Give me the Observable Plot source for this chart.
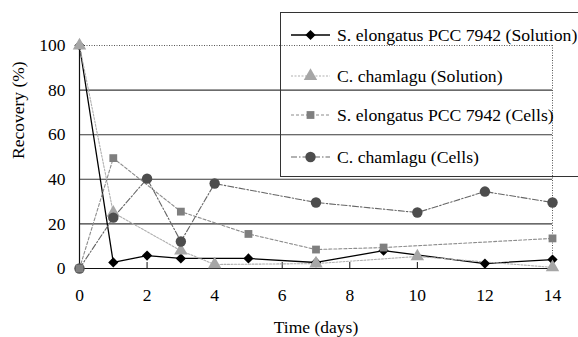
<!DOCTYPE html>
<html>
<head>
<meta charset="utf-8">
<script src="https://cdn.jsdelivr.net/npm/d3@7"></script>
<script src="https://cdn.jsdelivr.net/npm/@observablehq/plot@0.6"></script>
<style>
  html, body { margin: 0; padding: 0; background: #fff; overflow: hidden; }
  #wrap { position: relative; width: 578px; height: 337px; overflow: hidden; font-family: "Liberation Serif", "Times New Roman", serif; }
  #legend { position: absolute; left: 280px; top: 12px; width: 320px; height: 165px; border: 1px solid #333; box-sizing: border-box; }
  #legend .row { position: absolute; left: 0; height: 24px; display: flex; align-items: center; font-size: 17.7px; color: #000; white-space: nowrap; }
  #legend svg { display: block; margin-left: 10px; margin-right: 6px; }
</style>
</head>
<body>
<div id="wrap"></div>
<script>
// ---- data ----
const seriesNames = [
  "S. elongatus PCC 7942 (Solution)",
  "C. chamlagu (Solution)",
  "S. elongatus PCC 7942 (Cells)",
  "C. chamlagu (Cells)"
];
const seSolutionDays = [0, 1, 2, 3, 5, 7, 9, 12, 14];
const seSolution     = [100, 2.7, 5.8, 4.5, 4.5, 2.7, 8, 2.2, 4];
const ccSolutionDays = [0, 1, 3, 4, 7, 10, 14];
const ccSolution     = [100, 25, 8, 1.8, 2.2, 5.4, 0.5];
const seCellsDays    = [0, 1, 3, 5, 7, 9, 14];
const seCells        = [0, 49.5, 25.5, 15.5, 8.5, 9.4, 13.5];
const ccCellsDays    = [0, 1, 2, 3, 4, 7, 10, 12, 14];
const ccCells        = [0, 22.8, 40.3, 12.1, 38.1, 29.6, 25.1, 34.5, 29.6];
const xTicks = [0, 2, 4, 6, 8, 10, 12, 14];
const yTicks = [0, 20, 40, 60, 80, 100];

// ---- styles ----
const styles = [
  {symbol: "diamond2", fill: "#000", line: "#000", dash: null, r: 4.6, lw: 1.3},
  {symbol: "triangle", fill: "#a6a6a6", line: "#b0b0b0", dash: "2,1.5", r: 5, lw: 1.1},
  {symbol: "square", fill: "#7f7f7f", line: "#8c8c8c", dash: "3,2", r: 4.4, lw: 1.1},
  {symbol: "circle", fill: "#4d4d4d", line: "#666", dash: "6,2,1.5,2", r: 5.2, lw: 1.1}
];

const mk = (days, vals, i) => days.map((d, k) => ({day: d, value: vals[k], s: i}));
const series = [
  mk(seSolutionDays, seSolution, 0),
  mk(ccSolutionDays, ccSolution, 1),
  mk(seCellsDays, seCells, 2),
  mk(ccCellsDays, ccCells, 3)
];

const lineMarks = series.map((data, i) => Plot.line(data, {
  x: "day", y: "value", stroke: styles[i].line, strokeWidth: styles[i].lw,
  strokeDasharray: styles[i].dash
}));
const dotOrder = [0, 1, 3, 2];
const dotMarks = dotOrder.map(i => Plot.dot(series[i], {
  x: "day", y: "value", symbol: () => styles[i].symbol, r: styles[i].r,
  fill: styles[i].fill, stroke: "none"
}));

const chart = Plot.plot({
  width: 578, height: 337,
  marginLeft: 79, marginRight: 26, marginTop: 45, marginBottom: 69,
  style: {fontFamily: "'Liberation Serif', 'Times New Roman', serif", fontSize: "17.5px", color: "#000", background: "transparent"},
  x: {domain: [0, 14], ticks: xTicks, label: null},
  y: {domain: [0, 100], ticks: yTicks, label: null},
  symbol: {type: "identity"},
  marks: [
    Plot.ruleY(yTicks.filter(d => d > 0 && d < 100), {stroke: "#3a3a3a", strokeWidth: 1.1}),
    Plot.ruleY(yTicks.filter(d => d === 100), {stroke: "#555", strokeWidth: 1, strokeDasharray: "1,1.5"}),
    Plot.ruleX(xTicks.filter(d => d === 14), {stroke: "#555", strokeWidth: 1, strokeDasharray: "1,1.5"}),
    Plot.tickX(xTicks.filter(d => d > 0 && d < 14), {x: d => d, stroke: "#111", insetTop: 217}),
    Plot.ruleX([0], {stroke: "#111", strokeWidth: 1.2}),
    Plot.ruleY([0], {stroke: "#111", strokeWidth: 1.2}),
    Plot.axisX({ticks: xTicks, tickSize: 0, tickPadding: 20, label: null, tickFormat: d => d}),
    Plot.axisY({ticks: yTicks, tickSize: 0, tickPadding: 14, label: null, tickFormat: d => d}),
    Plot.text(["Time (days)"], {frameAnchor: "bottom", dy: 59, lineAnchor: "middle", fontSize: 17.5}),
    Plot.text(["Recovery (%)"], {frameAnchor: "left", dx: -61, dy: 2, rotate: -90, lineAnchor: "middle", fontSize: 17.5}),
    ...lineMarks,
    ...dotMarks
  ]
});
const wrap = document.getElementById("wrap");
wrap.appendChild(chart);

// ---- legend ----
const legend = document.createElement("div");
legend.id = "legend";
const rowCenters = [22, 63, 102, 144];
const symMap = {diamond2: d3.symbolDiamond2, triangle: d3.symbolTriangle, square: d3.symbolSquare, circle: d3.symbolCircle};
seriesNames.forEach((name, i) => {
  const st = styles[i];
  const row = document.createElement("div");
  row.className = "row";
  row.style.top = (rowCenters[i] - 12) + "px";
  const size = Math.PI * st.r * st.r;
  const path = d3.symbol(symMap[st.symbol], size)();
  row.innerHTML =
    `<svg width="40" height="20" viewBox="0 0 40 20">` +
    `<line x1="0" y1="10" x2="39" y2="10" stroke="${st.line}" stroke-width="${st.lw}" ${st.dash ? `stroke-dasharray="${st.dash}"` : ""}/>` +
    `<path transform="translate(19.5,10)" d="${path}" fill="${st.fill}"/></svg>` +
    `<span>${name}</span>`;
  legend.appendChild(row);
});
wrap.appendChild(legend);
</script>
</body>
</html>
